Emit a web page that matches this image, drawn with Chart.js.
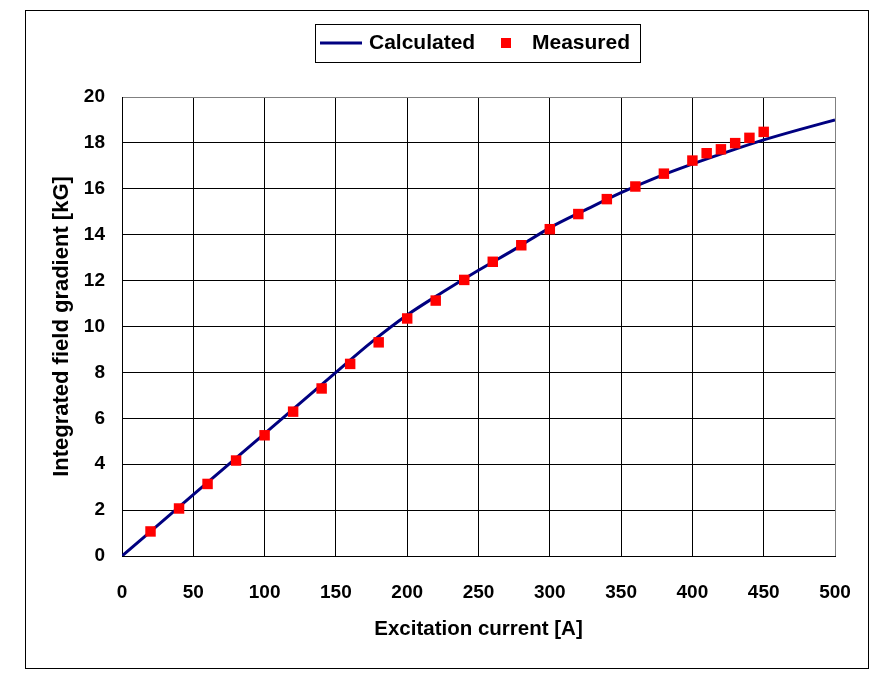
<!DOCTYPE html>
<html>
<head>
<meta charset="utf-8">
<script src="https://cdn.jsdelivr.net/npm/chart.js@4"></script>
<style>
  html, body { margin: 0; padding: 0; background: #fff; }
  #wrap { width: 887px; height: 684px; }
</style>
</head>
<body>
<div id="wrap"><canvas id="chart" width="887" height="684"></canvas></div>
<script>
// calculated curve
const calcCurrent = [0, 50, 100, 150, 175, 200, 225, 250, 275, 300, 325, 350, 375, 400, 425, 450, 475, 500];
const calcGradient = [0, 2.67, 5.33, 8.0, 9.32, 10.5, 11.5, 12.45, 13.35, 14.3, 15.08, 15.83, 16.5, 17.08, 17.62, 18.13, 18.58, 19.0];

// measured points
const measCurrent = [20, 40, 60, 80, 100, 120, 140, 160, 180, 200, 220, 240, 260, 280, 300, 320, 340, 360, 380, 400, 410, 420, 430, 440, 450];
const measGradient = [1.07, 2.07, 3.14, 4.16, 5.26, 6.29, 7.30, 8.37, 9.31, 10.35, 11.13, 12.03, 12.82, 13.54, 14.24, 14.90, 15.55, 16.10, 16.66, 17.23, 17.55, 17.72, 17.99, 18.22, 18.48];

const xTicks = [0, 50, 100, 150, 200, 250, 300, 350, 400, 450, 500];
const yTicks = [0, 2, 4, 6, 8, 10, 12, 14, 16, 18, 20];

const FONT = '"Liberation Sans", Arial, sans-serif';

const toXY = (xs, ys) => xs.map((x, i) => ({ x: x, y: ys[i] }));

// outer frame + legend box
const framePlugin = {
  id: 'frame',
  afterDraw(chart) {
    const ctx = chart.ctx;
    ctx.save();
    ctx.strokeStyle = '#000';
    ctx.lineWidth = 1;
    ctx.strokeRect(25.5, 10.5, 843, 658);

    // legend
    ctx.strokeRect(315.5, 24.5, 325, 38);
    ctx.strokeStyle = '#000080';
    ctx.lineWidth = 3;
    ctx.beginPath();
    ctx.moveTo(320, 43);
    ctx.lineTo(362, 43);
    ctx.stroke();
    ctx.fillStyle = '#ff0000';
    ctx.fillRect(501, 38, 10, 10);
    ctx.fillStyle = '#000';
    ctx.font = 'bold 21px ' + FONT;
    ctx.textBaseline = 'middle';
    ctx.fillText('Calculated', 369, 43);
    ctx.fillText('Measured', 532, 43);
    ctx.restore();
  }
};

new Chart(document.getElementById('chart'), {
  type: 'scatter',
  data: {
    datasets: [{
      label: 'Calculated',
      type: 'line',
      data: toXY(calcCurrent, calcGradient),
      borderColor: '#000080',
      borderWidth: 3,
      pointRadius: 0,
      cubicInterpolationMode: 'monotone',
      fill: false,
      order: 2
    }, {
      label: 'Measured',
      data: toXY(measCurrent, measGradient),
      pointStyle: 'rect',
      pointRadius: 7.4,
      pointBackgroundColor: '#ff0000',
      pointBorderWidth: 0,
      order: 1
    }]
  },
  options: {
    responsive: false,
    animation: false,
    layout: { padding: { left: 45, right: 52, top: 97, bottom: 38 } },
    plugins: {
      legend: { display: false },
      tooltip: { enabled: false }
    },
    scales: {
      x: {
        type: 'linear',
        min: 0,
        max: 500,
        afterBuildTicks: s => { s.ticks = xTicks.map(v => ({ value: v })); },
        afterFit: s => { s.height = 90; },
        ticks: {
          color: '#000',
          padding: 25,
          font: { family: FONT, size: 19, weight: 'bold' },
          maxRotation: 0
        },
        grid: {
          drawTicks: false,
          color: c => (c.tick && c.tick.value === 500) ? '#808080' : '#000',
          lineWidth: 1
        },
        border: { color: '#000', width: 1 },
        title: {
          display: true,
          text: 'Excitation current [A]',
          color: '#000',
          font: { family: FONT, size: 20.5, weight: 'bold' },
          padding: { top: 4, bottom: 4 }
        }
      },
      y: {
        min: 0,
        max: 20,
        afterBuildTicks: s => { s.ticks = yTicks.map(v => ({ value: v })); },
        afterFit: s => { s.width = 77; },
        ticks: {
          color: '#000',
          padding: 17,
          font: { family: FONT, size: 19, weight: 'bold' }
        },
        grid: {
          drawTicks: false,
          color: c => (c.tick && c.tick.value === 20) ? '#808080' : '#000',
          lineWidth: 1
        },
        border: { color: '#000', width: 1 },
        title: {
          display: true,
          text: 'Integrated field gradient [kG]',
          color: '#000',
          font: { family: FONT, size: 22, weight: 'bold' },
          padding: { top: 4, bottom: 4 }
        }
      }
    }
  },
  plugins: [framePlugin]
});
</script>
</body>
</html>
